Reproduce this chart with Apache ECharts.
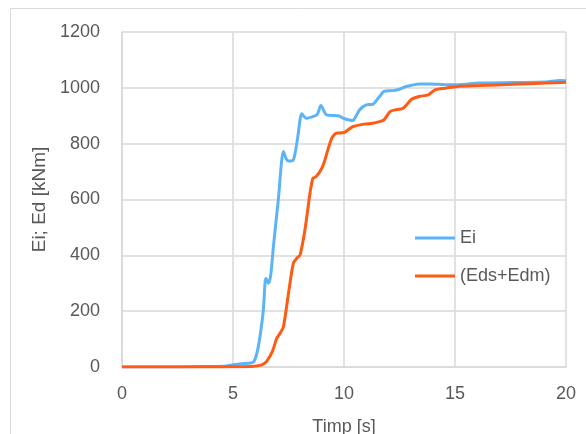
<!DOCTYPE html>
<html>
<head>
<meta charset="utf-8">
<script src="https://cdn.jsdelivr.net/npm/echarts@6/dist/echarts.min.js"></script>
<style>
html,body{margin:0;padding:0;background:#fff;}
#chart{width:586px;height:434px;}
</style>
</head>
<body>
<div id="chart"></div>
<script>
// Ei series: time [s], energy [kNm]
const eiTime = [0, 1, 2, 3, 4, 4.7, 5.3, 5.8, 5.95, 6.14, 6.36, 6.48, 6.6, 6.7, 6.82, 7.04, 7.27, 7.4, 7.5, 7.72, 7.9, 8.1, 8.3, 8.6, 8.8, 8.96, 9.22, 9.75, 10.0, 10.4, 10.55, 10.7, 11.0, 11.3, 11.6, 11.8, 12.2, 12.5, 12.8, 13.4, 13.9, 14.6, 15.1, 16.1, 17.6, 19.1, 19.7, 20];
const eiValue = [0, 0, 0, 1, 2, 4, 11, 14, 20, 73, 198, 318, 300, 330, 431, 598, 772, 745, 738, 742, 814, 907, 891, 897, 905, 937, 903, 900, 890, 883, 900, 921, 939, 941, 969, 987, 990, 995, 1005, 1014, 1014, 1011, 1011, 1017, 1019, 1021, 1026, 1025];
// (Eds+Edm) series
const edTime = [0, 1, 2, 3, 4, 5, 5.8, 6.07, 6.3, 6.5, 6.67, 6.8, 6.97, 7.1, 7.27, 7.5, 7.72, 7.9, 8.02, 8.24, 8.47, 8.6, 8.75, 9.0, 9.14, 9.3, 9.45, 9.6, 9.7, 10.0, 10.4, 10.9, 11.3, 11.6, 11.8, 12.07, 12.3, 12.67, 13.05, 13.4, 13.8, 14.1, 14.6, 15.1, 16.1, 17.6, 19.1, 20];
const edValue = [0, 0, 0, 0, 0, 1, 2, 4, 8, 19, 39, 61, 103, 118, 144, 264, 372, 392, 401, 491, 623, 676, 682, 712, 742, 785, 820, 835, 838, 840, 861, 870, 873, 879, 885, 915, 921, 927, 959, 969, 975, 993, 999, 1005, 1008, 1013, 1017, 1020];
const seriesNames = ['Ei', '(Eds+Edm)'];
const xTicks = {min: 0, max: 20, interval: 5};
const yTicks = {min: 0, max: 1200, interval: 200};

const pair = (t, v) => t.map((x, i) => [x, v[i]]);
const font = "'Liberation Sans', Arial, sans-serif";
const txt = '#595959';
const gridC = '#d9d9d9';

const chart = echarts.init(document.getElementById('chart'), null, {renderer: 'canvas'});
chart.setOption({
  animation: false,
  backgroundColor: '#fff',
  graphic: [{
    type: 'rect', shape: {x: 10.5, y: 8.5, width: 640, height: 500},
    style: {fill: 'none', stroke: gridC, lineWidth: 1}, silent: true, z: -1
  }],
  grid: {left: 122, right: 20, top: 32, bottom: 67, containLabel: false, outerBoundsMode: 'none'},
  legend: {
    orient: 'vertical', left: 410, top: 224, itemWidth: 40, itemHeight: 12, itemGap: 20,
    icon: 'path://M0,5 L40,5 L40,8 L0,8 Z',
    textStyle: {fontFamily: font, fontSize: 18, color: txt},
    data: seriesNames
  },
  xAxis: {
    type: 'value', min: xTicks.min, max: xTicks.max, interval: xTicks.interval,
    name: 'Timp [s]', nameLocation: 'middle', nameGap: 51,
    nameTextStyle: {fontFamily: font, fontSize: 18, color: txt},
    axisLine: {show: true, lineStyle: {color: gridC, width: 1.5}},
    axisTick: {show: false},
    axisLabel: {fontFamily: font, fontSize: 18, color: txt, margin: 18},
    splitLine: {show: true, lineStyle: {color: gridC, width: 1.5}}
  },
  yAxis: {
    type: 'value', min: yTicks.min, max: yTicks.max, interval: yTicks.interval,
    name: 'Ei; Ed [kNm]', nameLocation: 'middle', nameGap: 67,
    nameTextStyle: {fontFamily: font, fontSize: 19, color: txt},
    axisLine: {show: true, lineStyle: {color: gridC, width: 1.5}},
    axisTick: {show: false},
    axisLabel: {fontFamily: font, fontSize: 18, color: txt, margin: 22, formatter: v => String(v)},
    splitLine: {show: true, lineStyle: {color: gridC, width: 1.5}}
  },
  series: [
    {name: seriesNames[0], type: 'line', data: pair(eiTime, eiValue), symbol: 'none', smooth: 0.25,
     lineStyle: {color: '#5BB4F8', width: 3}, itemStyle: {color: '#5BB4F8'}, z: 2},
    {name: seriesNames[1], type: 'line', data: pair(edTime, edValue), symbol: 'none', smooth: 0.25,
     lineStyle: {color: '#FF5B14', width: 3}, itemStyle: {color: '#FF5B14'}, z: 3}
  ]
});
</script>
</body>
</html>
